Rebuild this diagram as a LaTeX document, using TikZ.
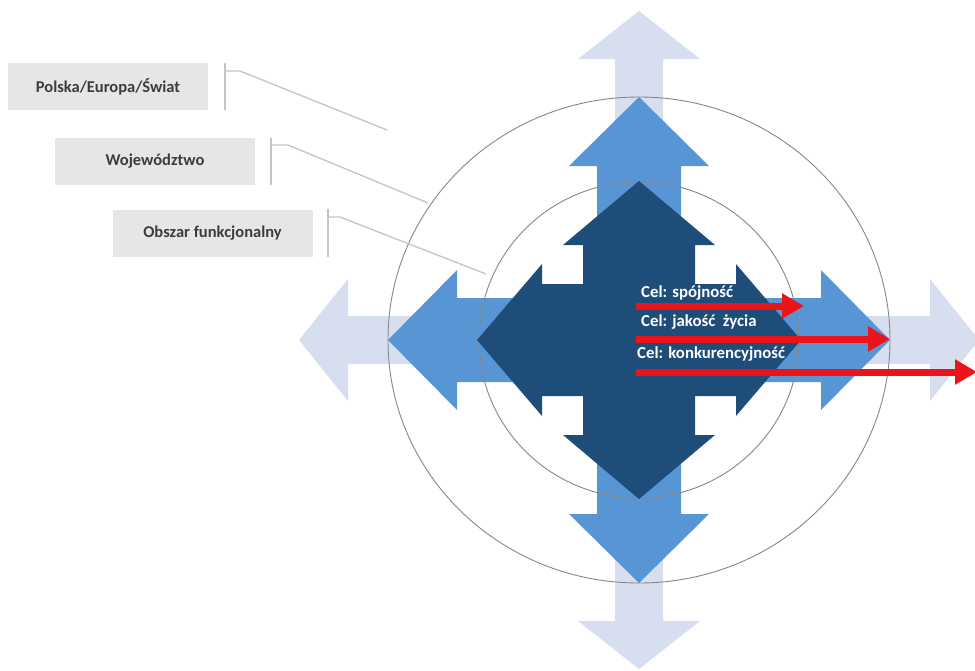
\documentclass[tikz,border=0pt]{standalone}
\usepackage{fontspec}
\setmainfont{Carlito}
\usetikzlibrary{arrows.meta}
\definecolor{lightA}{RGB}{214,222,240}
\definecolor{midA}{RGB}{88,149,213}
\definecolor{darkA}{RGB}{31,77,122}
\definecolor{boxgray}{RGB}{230,230,230}
\definecolor{linegray}{RGB}{196,196,196}
\definecolor{circgray}{RGB}{135,135,135}
\definecolor{redA}{RGB}{236,20,26}
\definecolor{labeltext}{RGB}{60,60,60}
% #1 tx, #2 ty, #3 hx, #4 hy, #5 hw, #6 sw, #7 fill
\newcommand\quadarrow[7]{%
  \fill[#7] (0,{-#2}) -- (#5,{-#4}) -- (#6,{-#4}) -- (#6,{-#6}) -- (#3,{-#6}) -- (#3,{-#5})
   -- (#1,0) -- (#3,#5) -- (#3,#6) -- (#6,#6) -- (#6,#4) -- (#5,#4)
   -- (0,#2) -- ({-#5},#4) -- ({-#6},#4) -- ({-#6},#6) -- ({-#3},#6) -- ({-#3},#5)
   -- ({-#1},0) -- ({-#3},{-#5}) -- ({-#3},{-#6}) -- ({-#6},{-#6}) -- ({-#6},{-#4}) -- ({-#5},{-#4}) -- cycle;}
\tikzset{
  levelbox/.style={fill=boxgray, minimum width=200pt, minimum height=47pt, inner sep=0pt,
    font=\fontsize{16.5}{18}\selectfont\bfseries, text=labeltext},
  leader/.style={draw=linegray, line width=1.3pt},
  ring/.style={draw=circgray, line width=0.9pt},
  goal/.style={draw=redA, line width=7pt, -{Triangle[length=22pt,width=24pt]}},
  goaltext/.style={anchor=base west, inner sep=0pt, text=white,
    font=\fontsize{16.8}{18}\selectfont\bfseries},
}
\begin{document}
\begin{tikzpicture}[x=1pt,y=-1pt]
\useasboundingbox[fill=white] (0,0) rectangle (975,670);
\coordinate (c) at (639,340);
\begin{scope}[shift={(c)}]
  \quadarrow{340}{329}{291}{281}{61}{24}{lightA}
  \quadarrow{251}{243}{182}{174}{70}{42}{midA}
\end{scope}
\draw[ring] (c) ellipse [x radius=251, y radius=243];
\draw[ring] (c) ellipse [x radius=160, y radius=158];
\begin{scope}[shift={(c)}]
  \quadarrow{162}{159}{97}{95}{76}{56}{darkA}
\end{scope}
% level labels
\node[levelbox] (world) at (108,86.5) {Polska/Europa/Świat};
\node[levelbox] (region) at (155,161) {Województwo};
\node[levelbox] (area) at (212.5,233) {Obszar funkcjonalny};
% brackets and leaders
\coordinate (w1) at (225,63); \coordinate (w2) at (225,110);
\coordinate (w3) at (225,71); \coordinate (w4) at (240,71); \coordinate (w5) at (387,130);
\coordinate (r1) at (271,138); \coordinate (r2) at (271,185);
\coordinate (r3) at (271,145); \coordinate (r4) at (288,145); \coordinate (r5) at (428,203);
\coordinate (a1) at (328,209); \coordinate (a2) at (328,257);
\coordinate (a3) at (328,217); \coordinate (a4) at (340,217); \coordinate (a5) at (486,274);
\draw[leader] (w1) -- (w2); \draw[leader] (w3) -- (w4) -- (w5);
\draw[leader] (r1) -- (r2); \draw[leader] (r3) -- (r4) -- (r5);
\draw[leader] (a1) -- (a2); \draw[leader] (a3) -- (a4) -- (a5);
% goals
\coordinate (g1s) at (636,306); \coordinate (g1e) at (804,306);
\coordinate (g2s) at (636,339); \coordinate (g2e) at (890,339);
\coordinate (g3s) at (636,372); \coordinate (g3e) at (977,372);
\draw[goal] (g1s) -- (g1e);
\draw[goal] (g2s) -- (g2e);
\draw[goal] (g3s) -- (g3e);
\node[goaltext] (t1) at (641,297) {Cel: spójność};
\node[goaltext] (t2) at (641,326) {Cel: jakość\ \ życia};
\node[goaltext] (t3) at (637,358) {Cel: konkurencyjność};
\end{tikzpicture}
\end{document}
